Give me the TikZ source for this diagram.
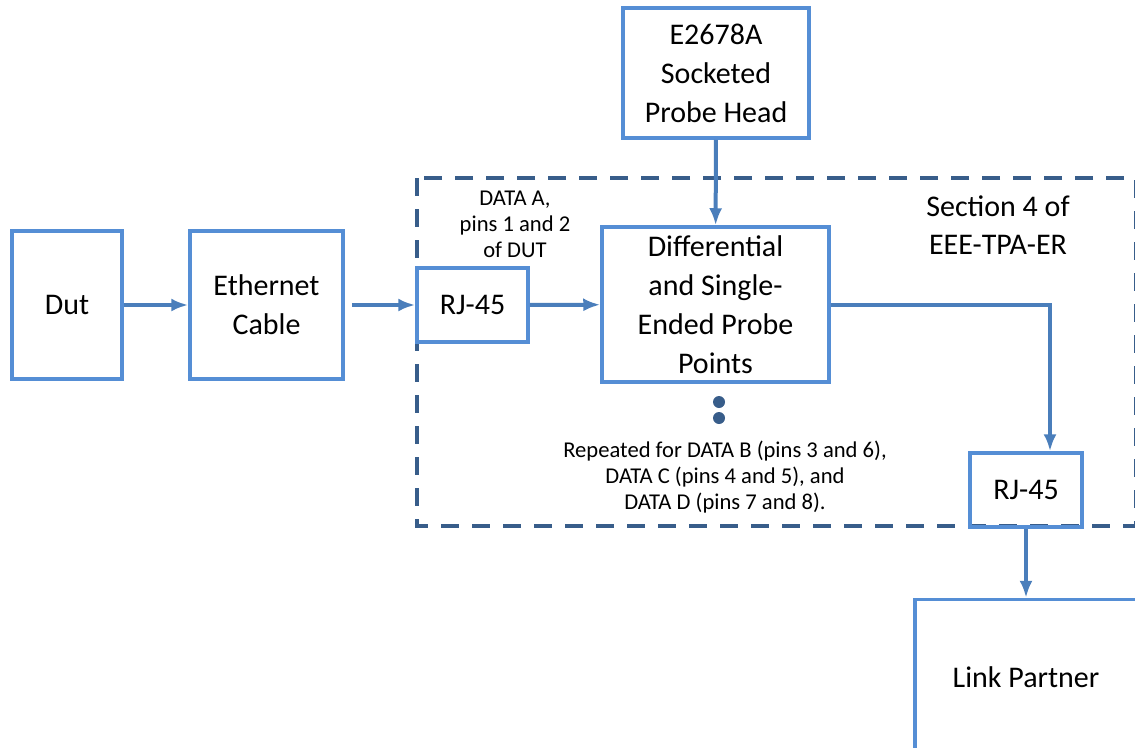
\documentclass[tikz,border=0pt]{standalone}
\usepackage{fontspec}
\setmainfont{Carlito}
\usetikzlibrary{arrows.meta, positioning}
\definecolor{boxblue}{RGB}{85,142,213}
\definecolor{arrowblue}{RGB}{74,126,187}
\definecolor{dashblue}{RGB}{56,93,138}
\tikzset{>={Latex[length=17pt,width=13pt]}}
\tikzset{block/.style = {draw=boxblue, line width=3.5pt, rectangle, align=center, inner sep=0pt, font=\fontsize{30}{39}\selectfont}}
\tikzset{link/.style = {->, draw=arrowblue, line width=4pt}}
\tikzset{note/.style = {align=center, font=\fontsize{22.6}{26}\selectfont}}
\tikzset{dot/.style = {circle, fill=dashblue, minimum size=12pt, inner sep=0pt}}

\begin{document}
\begin{tikzpicture}[x=1pt, y=-1pt]
  \useasboundingbox (0,0) rectangle (1135,747);
  % section frame
  \draw[dashblue, line width=4pt, dash pattern=on 18pt off 13pt]
    (417,178) rectangle (1135.5,526);

  \node[block, minimum width=110pt, minimum height=148pt] (dut) at (67,305) {Dut};
  \node[block, minimum width=153pt, minimum height=148pt] (cable) at (266.5,305) {Ethernet\\Cable};
  \node[block, minimum width=111pt, minimum height=74pt] (rjA) at (472.5,305) {RJ-45};
  \node[block, minimum width=227pt, minimum height=155pt] (probe) at (715.5,304.5)
    {Differential\\and Single-\\Ended Probe\\Points};
  \node[block, minimum width=186pt, minimum height=130pt] (head) at (716,73)
    {E2678A\\Socketed\\Probe Head};
  \node[block, minimum width=112pt, minimum height=74pt] (rjB) at (1026,490) {RJ-45};
  \node[block, minimum width=222pt, minimum height=155pt] (partner) at (1026,677) {Link Partner};

  \node[note] (dataA) at (515,224) {DATA A,\\pins 1 and 2\\of DUT};
  \node[font=\fontsize{30}{38}\selectfont, align=center] (sect) at (998,225) {Section 4 of\\EEE-TPA-ER};
  \node[dot] (dot1) at (719,402) {};
  \node[dot] (dot2) at (719,418) {};
  \node[note] (rep) at (725,477)
    {Repeated for DATA B (pins 3 and 6),\\DATA C (pins 4 and 5), and\\DATA D (pins 7 and 8).};

  \foreach \i/\o in {dut/cable, rjA/probe, head/probe, rjB/partner}
  {
    \draw[link] (\i) -- (\o);
  }
  \draw[link, shorten <=7pt] (cable) -- (rjA);
  \draw[link] (probe.east) -| ([xshift=24pt]rjB.north);
\end{tikzpicture}
\end{document}
